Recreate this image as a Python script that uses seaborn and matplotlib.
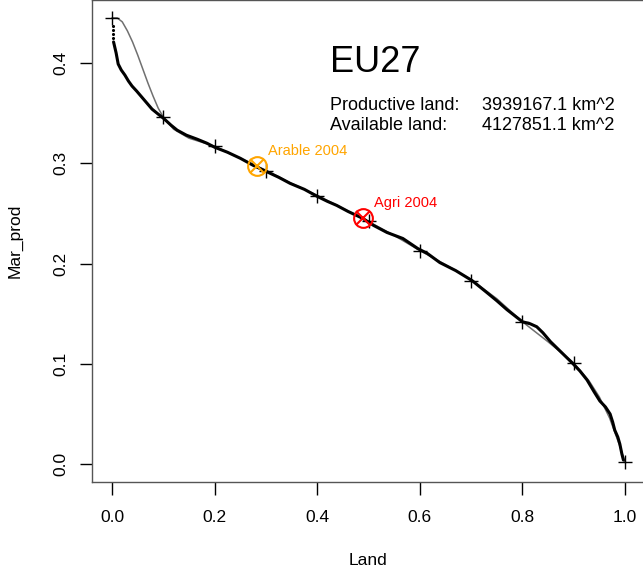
import numpy as np
import pandas as pd
import matplotlib
matplotlib.use("Agg")
import matplotlib.pyplot as plt
import seaborn as sns

# ---- data ----
curve_land = [0.003, 0.008, 0.012, 0.018, 0.025, 0.032, 0.039, 0.048, 0.058, 0.068,
              0.078, 0.090, 0.100, 0.115, 0.127, 0.145, 0.166, 0.185, 0.200, 0.225,
              0.250, 0.275, 0.300, 0.325, 0.347, 0.375, 0.400, 0.420, 0.438, 0.460,
              0.489, 0.510, 0.536, 0.567, 0.596, 0.615, 0.639, 0.670, 0.702, 0.731,
              0.750, 0.770, 0.800, 0.815, 0.828, 0.840, 0.855, 0.873, 0.897, 0.912,
              0.926, 0.940, 0.951, 0.962, 0.971, 0.976, 0.980, 0.986, 0.990, 0.994,
              0.997]
curve_prod = [0.421, 0.410, 0.399, 0.393, 0.388, 0.382, 0.377, 0.372, 0.366, 0.360,
              0.354, 0.349, 0.345, 0.338, 0.333, 0.328, 0.324, 0.320, 0.316, 0.311,
              0.305, 0.298, 0.292, 0.286, 0.280, 0.274, 0.267, 0.262, 0.258, 0.252,
              0.245, 0.238, 0.231, 0.225, 0.215, 0.210, 0.201, 0.193, 0.183, 0.171,
              0.163, 0.154, 0.142, 0.140, 0.137, 0.131, 0.122, 0.113, 0.101, 0.093,
              0.084, 0.072, 0.063, 0.057, 0.050, 0.042, 0.034, 0.027, 0.020, 0.010,
              0.004]
top_dots_land = [0.001, 0.001, 0.001, 0.001]
top_dots_prod = [0.437, 0.433, 0.429, 0.425]

smooth_land = [0.0, 0.01, 0.02, 0.03, 0.04, 0.05, 0.06, 0.07, 0.08, 0.09, 0.10, 0.12,
               0.15, 0.20, 0.25, 0.30, 0.35, 0.40, 0.45, 0.50, 0.55, 0.60, 0.65, 0.70,
               0.75, 0.80, 0.85, 0.90, 0.93, 0.95, 0.97, 0.99, 1.00]
smooth_prod = [0.445, 0.445, 0.441, 0.432, 0.421, 0.408, 0.394, 0.380, 0.367, 0.355,
               0.346, 0.334, 0.325, 0.317, 0.305, 0.293, 0.280, 0.268, 0.255, 0.242,
               0.228, 0.213, 0.199, 0.184, 0.165, 0.142, 0.122, 0.101, 0.083, 0.067,
               0.046, 0.018, 0.002]

knot_land = [0.0, 0.1, 0.2, 0.3, 0.4, 0.5, 0.6, 0.7, 0.8, 0.9, 1.0]
knot_prod = [0.445, 0.346, 0.317, 0.292, 0.267, 0.242, 0.213, 0.183, 0.142, 0.101, 0.002]

point_names = ["Arable 2004", "Agri 2004"]
point_land = [0.283, 0.489]
point_prod = [0.297, 0.245]
point_colors = ["#FFA500", "#FF0000"]

x_ticks = [0.0, 0.2, 0.4, 0.6, 0.8, 1.0]
y_ticks = [0.0, 0.1, 0.2, 0.3, 0.4]
title = "EU27"
info_labels = ["Productive land:", "Available land:"]
info_values = ["3939167.1 km^2", "4127851.1 km^2"]

# ---- style ----
sns.set_theme(style="white")
plt.rcParams["font.family"] = ["Liberation Sans", "DejaVu Sans"]

W, H = 643, 571
fig = plt.figure(figsize=(W / 100, H / 100), dpi=100)
ax = fig.add_axes([91.5 / W, (H - 482) / H, (645.5 - 91.5) / W, 482 / H])

curve_df = pd.DataFrame({"Land": curve_land, "Mar_prod": curve_prod})
smooth_df = pd.DataFrame({"Land": smooth_land, "Mar_prod": smooth_prod})
knot_df = pd.DataFrame({"Land": knot_land, "Mar_prod": knot_prod})
dots_df = pd.DataFrame({"Land": top_dots_land, "Mar_prod": top_dots_prod})

sns.lineplot(data=smooth_df, x="Land", y="Mar_prod", sort=False, estimator=None,
             color="#707070", linewidth=1.1, ax=ax, zorder=3)
sns.lineplot(data=curve_df, x="Land", y="Mar_prod", sort=False, estimator=None,
             color="black", linewidth=2.2, ax=ax, zorder=4)
sns.scatterplot(data=dots_df, x="Land", y="Mar_prod", color="black", s=5,
                linewidth=0, ax=ax, zorder=4)
sns.scatterplot(data=knot_df, x="Land", y="Mar_prod", marker="+", color="black",
                s=110, linewidth=1.0, ax=ax, zorder=5)

for name, px, py, c in zip(point_names, point_land, point_prod, point_colors):
    ax.plot([px], [py], marker="o", markersize=13.5, markerfacecolor="none",
            markeredgecolor=c, markeredgewidth=1.5, linestyle="none", zorder=6)
    ax.plot([px], [py], marker="x", markersize=10.5, color=c,
            markeredgewidth=1.5, linestyle="none", zorder=6)
    ax.annotate(name, (px, py), xytext=(8, 6), textcoords="offset points",
                color=c, fontsize=10.5, ha="left", va="bottom")

ax.text(0.425, 0.391, title, fontsize=26, ha="left", va="baseline", color="black")
ax.text(0.425, 0.353, info_labels[0], fontsize=13, ha="left", va="baseline", color="black")
ax.text(0.425, 0.333, info_labels[1], fontsize=13, ha="left", va="baseline", color="black")
ax.text(0.721, 0.353, info_values[0], fontsize=13, ha="left", va="baseline", color="black")
ax.text(0.721, 0.333, info_values[1], fontsize=13, ha="left", va="baseline", color="black")

ax.set_xlim(-0.04, 1.04)
ax.set_ylim(-0.0178, 0.4628)
ax.set_xticks(x_ticks)
ax.set_xticklabels([f"{v:.1f}" for v in x_ticks])
ax.set_yticks(y_ticks)
ax.set_yticklabels([f"{v:.1f}" for v in y_ticks], rotation=90, va="center")

ax.tick_params(axis="both", which="major", direction="out", length=9, width=1,
               color="black", labelsize=12.5, labelcolor="black")
ax.tick_params(axis="x", pad=11, bottom=True)
ax.tick_params(axis="y", pad=8, left=True)

ax.set_xlabel("Land", fontsize=12.5, labelpad=20, color="black")
ax.set_ylabel("Mar_prod", fontsize=12.5, labelpad=22, color="black")

for sp in ax.spines.values():
    sp.set_visible(True)
    sp.set_color("#555555")
    sp.set_linewidth(1.0)

fig.savefig("out.png", dpi=100, facecolor="white")
